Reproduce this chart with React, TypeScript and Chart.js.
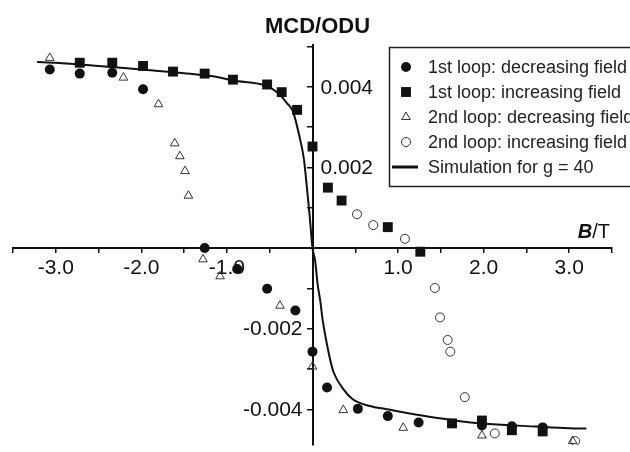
import React, { useEffect, useRef } from 'react';
import { Chart, registerables } from 'chart.js';
import { drawPoint } from 'chart.js/helpers';

Chart.register(...registerables);

const FONT = '"Liberation Sans", Arial, sans-serif';

// 1st loop, decreasing field
const loop1DecB = [2.69, 2.33, 1.98, 1.24, 0.88, 0.53, 0.17, 0, -0.2, -0.53, -0.88, -1.26, -1.98, -2.34, -2.72, -3.07];
const loop1DecMcd = [-0.00445, -0.00442, -0.0044, -0.00433, -0.00417, -0.00399, -0.00346, -0.00257, -0.00155, -0.00101, -0.00052, 0.0, 0.00394, 0.00435, 0.00433, 0.00443];

// 1st loop, increasing field
const loop1IncB = [-2.72, -2.34, -1.98, -1.63, -1.26, -0.93, -0.53, -0.36, -0.18, 0, 0.18, 0.34, 0.88, 1.26, 1.63, 1.98, 2.33, 2.69];
const loop1IncMcd = [0.0046, 0.0046, 0.00452, 0.00438, 0.00433, 0.00418, 0.00406, 0.00387, 0.00343, 0.00252, 0.0015, 0.00118, 0.00052, -0.00009, -0.00435, -0.00428, -0.00452, -0.00455];

// 2nd loop, decreasing field
const loop2DecB = [3.04, 1.98, 1.06, 0.36, 0, -0.38, -1.08, -1.28, -1.45, -1.49, -1.55, -1.61, -1.8, -2.21, -3.07];
const loop2DecMcd = [-0.00479, -0.00465, -0.00446, -0.00402, -0.00294, -0.00143, -0.0007, -0.00028, 0.0013, 0.00191, 0.00228, 0.0026, 0.00357, 0.00423, 0.00472];

// 2nd loop, increasing field
const loop2IncB = [0.52, 0.71, 1.08, 1.43, 1.49, 1.58, 1.61, 1.78, 2.13, 3.07];
const loop2IncMcd = [0.00084, 0.00057, 0.00023, -0.00099, -0.00172, -0.00228, -0.00257, -0.0037, -0.0046, -0.00479];

// Simulated curve for g = 40
const simB = [-3.22, -3.0, -2.5, -2.0, -1.5, -1.1, -0.93, -0.53, -0.38, -0.3, -0.23, -0.15, -0.1, -0.07, -0.035, 0, 0.03, 0.06, 0.09, 0.12, 0.17, 0.21, 0.25, 0.36, 0.47, 0.67, 0.87, 1.26, 1.64, 2.03, 2.62, 3.0, 3.2];
const simMcd = [0.00462, 0.0046, 0.00452, 0.00443, 0.00434, 0.00424, 0.00416, 0.00402, 0.0038, 0.0036, 0.0034, 0.00275, 0.0022, 0.0016, 0.00085, 0, -0.0003, -0.0009, -0.0013, -0.0018, -0.0024, -0.0028, -0.0031, -0.0035, -0.00375, -0.00392, -0.004, -0.00415, -0.00427, -0.00436, -0.00443, -0.00447, -0.00448];

const seriesLabels = [
  '1st loop: decreasing field',
  '1st loop: increasing field',
  '2nd loop: decreasing field',
  '2nd loop: increasing field',
  'Simulation for g = 40',
];

// Axis ticks and their labels
const xTickValues = [-3.5, -3.0, -2.5, -2.0, -1.5, -1.0, -0.5, 0, 0.5, 1.0, 1.5, 2.0, 2.5, 3.0, 3.5];
const xLabelValues = [-3.0, -2.0, -1.0, 1.0, 2.0, 3.0];
const yTickValues = [-0.004, -0.003, -0.002, -0.001, 0, 0.001, 0.002, 0.003, 0.004, 0.005];
const yLabelValues = [-0.004, -0.002, 0.002, 0.004];

const pts = (xs: number[], ys: number[]) => xs.map((x, i) => ({ x, y: ys[i] }));

const decorations = {
  id: 'decorations',
  beforeDatasetsDraw(chart: any) {
    const { ctx } = chart;
    const xs = chart.scales.x;
    const ys = chart.scales.y;
    const x0 = xs.getPixelForValue(0);
    const y0 = ys.getPixelForValue(0);
    ctx.save();
    ctx.fillStyle = '#111';
    ctx.font = `21px ${FONT}`;
    ctx.textAlign = 'center';
    ctx.textBaseline = 'middle';
    xLabelValues.forEach((v) => ctx.fillText(v.toFixed(1), xs.getPixelForValue(v), y0 + 20));
    yLabelValues.forEach((v) => {
      const py = ys.getPixelForValue(v) + 1;
      if (v > 0) {
        ctx.textAlign = 'left';
        ctx.fillText(v.toFixed(3), x0 + 8, py);
      } else {
        ctx.textAlign = 'right';
        ctx.fillText(v.toFixed(3), x0 - 10, py);
      }
    });
    // axis titles
    ctx.textAlign = 'center';
    ctx.font = `bold 22px ${FONT}`;
    ctx.fillText('MCD/ODU', x0 + 5, 27);
    ctx.textAlign = 'left';
    ctx.textBaseline = 'alphabetic';
    ctx.font = `italic bold 20px ${FONT}`;
    const wB = ctx.measureText('B').width;
    ctx.font = `20px ${FONT}`;
    const wT = ctx.measureText('/T').width;
    const sx = 610 - wB - wT;
    ctx.font = `italic bold 20px ${FONT}`;
    ctx.fillText('B', sx, 238);
    ctx.font = `20px ${FONT}`;
    ctx.fillText('/T', sx + wB, 238);
    ctx.restore();
  },
  afterDraw(chart: any) {
    const { ctx } = chart;
    ctx.save();
    ctx.fillStyle = '#fff';
    ctx.fillRect(389, 47, 320, 140);
    ctx.strokeStyle = '#222';
    ctx.lineWidth = 1.5;
    ctx.strokeRect(389.5, 47.5, 320, 139);
    ctx.font = `18px ${FONT}`;
    ctx.textAlign = 'left';
    ctx.textBaseline = 'middle';
    chart.data.datasets.forEach((ds: any, i: number) => {
      const cy = 67 + 25 * i;
      ctx.strokeStyle = ds.borderColor;
      ctx.fillStyle = ds.backgroundColor;
      if (ds.showLine) {
        ctx.lineWidth = 3;
        ctx.beginPath();
        ctx.moveTo(392, cy);
        ctx.lineTo(418, cy);
        ctx.stroke();
      } else {
        ctx.lineWidth = ds.borderWidth;
        drawPoint(ctx, { pointStyle: ds.pointStyle, radius: ds.pointRadius, rotation: 0, borderWidth: ds.borderWidth }, 406, cy);
      }
      ctx.fillStyle = '#222';
      ctx.fillText(ds.label, 428, cy + 1);
    });
    ctx.restore();
  },
};

export default function App() {
  const canvasRef = useRef<HTMLCanvasElement | null>(null);

  useEffect(() => {
    const canvas = canvasRef.current;
    if (!canvas) return;
    const chart = new Chart(canvas, {
      type: 'scatter',
      data: {
        datasets: [
          {
            label: seriesLabels[0],
            data: pts(loop1DecB, loop1DecMcd),
            pointStyle: 'circle',
            pointRadius: 5,
            backgroundColor: '#111',
            borderColor: '#111',
            borderWidth: 0,
            order: 1,
          },
          {
            label: seriesLabels[1],
            data: pts(loop1IncB, loop1IncMcd),
            pointStyle: 'rect',
            pointRadius: 7,
            backgroundColor: '#111',
            borderColor: '#111',
            borderWidth: 0,
            order: 2,
          },
          {
            label: seriesLabels[2],
            data: pts(loop2DecB, loop2DecMcd),
            pointStyle: 'triangle',
            pointRadius: 5,
            backgroundColor: 'rgba(0,0,0,0)',
            borderColor: '#333',
            borderWidth: 1,
            order: 3,
          },
          {
            label: seriesLabels[3],
            data: pts(loop2IncB, loop2IncMcd),
            pointStyle: 'circle',
            pointRadius: 4.5,
            backgroundColor: 'rgba(0,0,0,0)',
            borderColor: '#333',
            borderWidth: 1,
            order: 4,
          },
          {
            label: seriesLabels[4],
            data: pts(simB, simMcd),
            showLine: true,
            pointRadius: 0,
            borderColor: '#111',
            backgroundColor: '#111',
            borderWidth: 2,
            cubicInterpolationMode: 'monotone',
            order: 5,
          } as any,
        ],
      },
      options: {
        animation: false,
        responsive: false,
        devicePixelRatio: 1,
        layout: { padding: { left: 13, right: 18, top: 45, bottom: 0 } },
        plugins: { legend: { display: false }, tooltip: { enabled: false }, title: { display: false } },
        scales: {
          x: {
            type: 'linear',
            min: -3.5,
            max: 3.5,
            position: { y: 0 } as any,
            border: { color: '#111', width: 2 },
            grid: { drawOnChartArea: false, drawTicks: true, tickLength: 4, tickWidth: 1.5, tickColor: '#111', color: '#111', lineWidth: 1.5 },
            ticks: { display: false },
            afterBuildTicks: (s: any) => { s.ticks = xTickValues.map((value) => ({ value })); },
            afterFit: (s: any) => { s.height = 0; },
          },
          y: {
            type: 'linear',
            min: -0.004887,
            max: 0.00504,
            position: { x: 0 } as any,
            border: { color: '#111', width: 2 },
            grid: { drawOnChartArea: false, drawTicks: true, tickLength: 5, tickWidth: 1.5, tickColor: '#111', color: '#111', lineWidth: 1.5 },
            ticks: { display: false },
            afterBuildTicks: (s: any) => { s.ticks = yTickValues.map((value) => ({ value })); },
            afterFit: (s: any) => { s.width = 0; },
          },
        },
      },
      plugins: [decorations],
    });
    return () => chart.destroy();
  }, []);

  return (
    <div style={{ position: 'fixed', left: 0, top: 0, width: 630, height: 452, background: '#fff' }}>
      <canvas ref={canvasRef} width={630} height={452} />
    </div>
  );
}
